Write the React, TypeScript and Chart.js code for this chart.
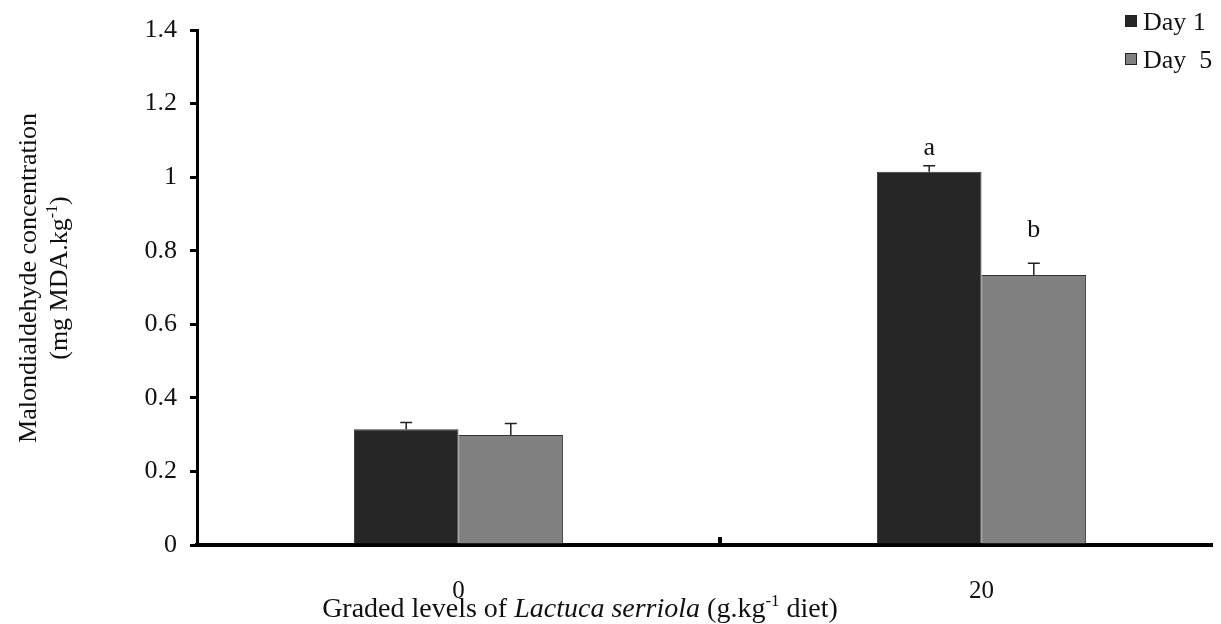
import React, { useEffect, useRef } from 'react';
import { Chart, registerables } from 'chart.js';

Chart.register(...registerables);

const categories = ['0', '20'];
const seriesNames = ['Day 1', 'Day  5'];
const day1Values = [0.315, 1.015];
const day5Values = [0.299, 0.734];
const day1Errors = [0.018, 0.016];
const day5Errors = [0.031, 0.032];
const day1Letters = ['', 'a'];
const day5Letters = ['', 'b'];
const yMin = 0;
const yMax = 1.4;
const yStep = 0.2;

const FONT = '"Liberation Serif", "Times New Roman", serif';
const TEXT = '#111';
const DARK = '#262626';
const GRAY = '#808080';

type Seg = { text: string; italic?: boolean; sup?: boolean };

function drawRich(ctx: CanvasRenderingContext2D, segs: Seg[], cx: number, cy: number, size: number) {
  const fontFor = (s: Seg) => `${s.italic ? 'italic ' : ''}${s.sup ? Math.round(size * 0.62) : size}px ${FONT}`;
  let total = 0;
  for (const s of segs) {
    ctx.font = fontFor(s);
    total += ctx.measureText(s.text).width;
  }
  let x = cx - total / 2;
  ctx.textAlign = 'left';
  ctx.textBaseline = 'alphabetic';
  for (const s of segs) {
    ctx.font = fontFor(s);
    ctx.fillText(s.text, x, s.sup ? cy - size * 0.38 : cy);
    x += ctx.measureText(s.text).width;
  }
}

const errors = [day1Errors, day5Errors];
const letters = [day1Letters, day5Letters];
const letterGaps = [11, 26];

const decorPlugin = {
  id: 'decor',
  afterDatasetsDraw(chart: any) {
    const ctx: CanvasRenderingContext2D = chart.ctx;
    const yScale = chart.scales.y;
    ctx.save();
    chart.data.datasets.forEach((ds: any, i: number) => {
      const meta = chart.getDatasetMeta(i);
      meta.data.forEach((bar: any, j: number) => {
        const v = ds.data[j];
        const top = yScale.getPixelForValue(v + errors[i][j]);
        ctx.strokeStyle = '#222';
        ctx.lineWidth = 1.5;
        ctx.beginPath();
        ctx.moveTo(bar.x, bar.y);
        ctx.lineTo(bar.x, top);
        ctx.moveTo(bar.x - 6, top);
        ctx.lineTo(bar.x + 6, top);
        ctx.stroke();
        const L = letters[i][j];
        if (L) {
          ctx.fillStyle = TEXT;
          ctx.font = `26px ${FONT}`;
          ctx.textAlign = 'center';
          ctx.textBaseline = 'alphabetic';
          ctx.fillText(L, bar.x, top - letterGaps[i]);
        }
      });
    });
    ctx.restore();
  },
  afterDraw(chart: any) {
    const ctx: CanvasRenderingContext2D = chart.ctx;
    const xScale = chart.scales.x;
    const area = chart.chartArea;
    ctx.save();
    // middle tick on x axis
    const mx = xScale.getPixelForValue(0.5);
    ctx.fillStyle = '#000';
    ctx.fillRect(mx - 2, area.bottom - 8, 4, 10);

    // y-axis title
    ctx.fillStyle = TEXT;
    ctx.save();
    ctx.translate(19, 270);
    ctx.rotate(-Math.PI / 2);
    drawRich(ctx, [{ text: 'Malondialdehyde concentration' }], 0, 9, 26);
    ctx.restore();
    ctx.save();
    ctx.translate(50, 270);
    ctx.rotate(-Math.PI / 2);
    drawRich(ctx, [{ text: '(mg MDA.kg' }, { text: '-1', sup: true }, { text: ')' }], 0, 9, 26);
    ctx.restore();

    // x-axis title
    drawRich(
      ctx,
      [
        { text: 'Graded levels of ' },
        { text: 'Lactuca serriola', italic: true },
        { text: ' (g.kg' },
        { text: '-1', sup: true },
        { text: ' diet)' },
      ],
      572,
      609,
      28
    );

    // legend
    const rows = [22, 60];
    chart.data.datasets.forEach((ds: any, i: number) => {
      const by = rows[i];
      ctx.fillStyle = ds.backgroundColor;
      ctx.fillRect(1117, by - 15, 12, 12);
      ctx.strokeStyle = '#222';
      ctx.lineWidth = 1;
      ctx.strokeRect(1117.5, by - 14.5, 11, 11);
      ctx.fillStyle = TEXT;
      ctx.font = `26px ${FONT}`;
      ctx.textAlign = 'left';
      ctx.textBaseline = 'alphabetic';
      ctx.fillText(ds.label, 1135, by);
    });
    ctx.restore();
  },
};

export default function App() {
  const ref = useRef<HTMLCanvasElement | null>(null);

  useEffect(() => {
    if (!ref.current) return;
    const chart = new Chart(ref.current, {
      type: 'bar',
      data: {
        labels: categories,
        datasets: [
          {
            label: seriesNames[0],
            data: day1Values,
            backgroundColor: DARK,
            borderColor: '#333',
            borderWidth: 1,
            categoryPercentage: 0.4,
            barPercentage: 1.0,
          },
          {
            label: seriesNames[1],
            data: day5Values,
            backgroundColor: GRAY,
            borderColor: '#333',
            borderWidth: 1,
            categoryPercentage: 0.4,
            barPercentage: 1.0,
          },
        ],
      },
      options: {
        animation: false,
        responsive: false,
        maintainAspectRatio: false,
        layout: { padding: { top: 22, right: 5, left: 0, bottom: 0 } },
        plugins: {
          legend: { display: false },
          tooltip: { enabled: false },
          title: { display: false },
        },
        scales: {
          x: {
            offset: true,
            grid: { display: true, drawOnChartArea: false, drawTicks: false },
            border: { display: true, color: '#000', width: 4 },
            ticks: {
              color: TEXT,
              font: { family: FONT, size: 25 },
              padding: 31,
              maxRotation: 0,
            },
            afterFit: (s: any) => {
              s.height = 79;
              s.paddingLeft = 0;
              s.paddingRight = 0;
            },
          },
          y: {
            min: yMin,
            max: yMax,
            grid: {
              drawOnChartArea: false,
              drawTicks: true,
              tickLength: 7,
              tickWidth: 3,
              tickColor: '#000',
              lineWidth: 3,
            },
            border: { display: true, color: '#000', width: 3 },
            ticks: {
              stepSize: yStep,
              color: TEXT,
              font: { family: FONT, size: 26 },
              padding: 13,
              callback: (v: any) => String(+(+v).toFixed(1)),
            },
            afterFit: (s: any) => {
              s.width = 189;
              s.paddingTop = 0;
              s.paddingBottom = 0;
            },
          },
        },
      },
      plugins: [decorPlugin],
    });
    return () => chart.destroy();
  }, []);

  return (
    <div style={{ width: 1213, height: 616, overflow: 'hidden', position: 'relative' }}>
      <canvas ref={ref} width={1240} height={616} style={{ display: 'block', width: 1240, height: 616 }} />
    </div>
  );
}
